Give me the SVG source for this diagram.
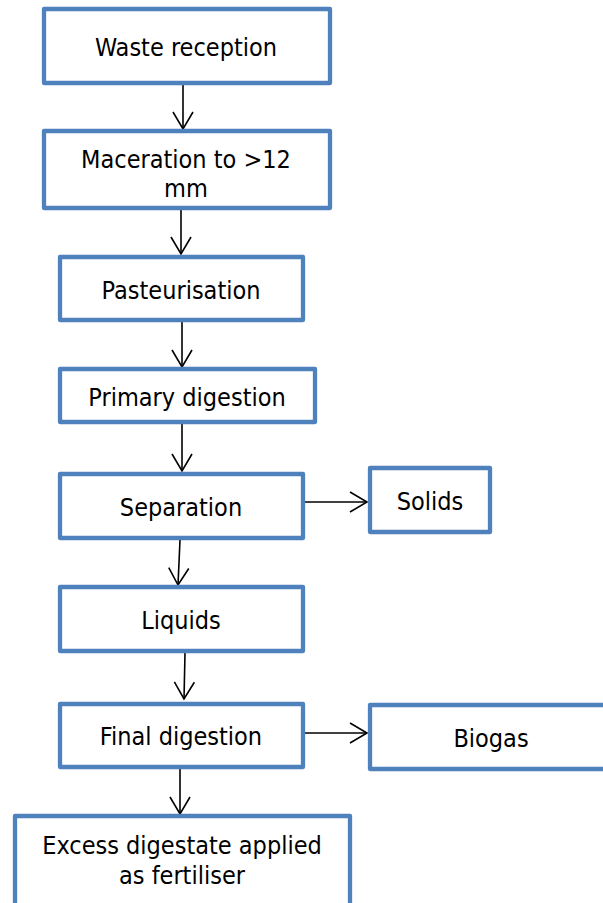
<svg xmlns="http://www.w3.org/2000/svg" width="603" height="903" viewBox="0 0 603 903">
<style>
.box{fill:#fff;stroke:#4f81bd;stroke-width:4.3;stroke-linejoin:round}
.lbl{font-family:"DejaVu Sans Condensed","DejaVu Sans",sans-serif;font-stretch:condensed;font-size:25px;fill:#000;text-anchor:middle}
.conn{stroke:#000;stroke-width:1.6;fill:none;marker-end:url(#arr)}
</style>
<defs>
<marker id="arr" viewBox="0 0 20 24" refX="18" refY="12" markerWidth="20" markerHeight="24" markerUnits="userSpaceOnUse" orient="auto">
<path d="M1,2 L18,12 L1,22" fill="none" stroke="#000" stroke-width="1.6"/>
</marker>
</defs>
<rect width="603" height="903" fill="#fff"/>
<g id="connectors">
<line class="conn" x1="183" y1="85" x2="183" y2="129"/>
<line class="conn" x1="181" y1="210" x2="181" y2="254"/>
<line class="conn" x1="182" y1="322" x2="182" y2="367"/>
<line class="conn" x1="182" y1="424" x2="182" y2="471"/>
<line class="conn" x1="180" y1="540" x2="178" y2="585"/>
<line class="conn" x1="305" y1="502" x2="367" y2="502"/>
<line class="conn" x1="185" y1="653" x2="184" y2="699"/>
<line class="conn" x1="180" y1="769" x2="180" y2="814"/>
<line class="conn" x1="305" y1="733" x2="367" y2="733"/>
</g>
<g id="waste-reception"><rect class="box" x="44" y="9" width="286" height="74"/><text class="lbl" x="186" y="56">Waste reception</text></g>
<g id="maceration"><rect class="box" x="44" y="131" width="286" height="77"/><text class="lbl" x="186" y="168">Maceration to &gt;12</text><text class="lbl" x="186" y="197">mm</text></g>
<g id="pasteurisation"><rect class="box" x="60" y="257" width="243" height="63"/><text class="lbl" x="181" y="299">Pasteurisation</text></g>
<g id="primary-digestion"><rect class="box" x="60" y="369" width="255" height="53"/><text class="lbl" x="187" y="406">Primary digestion</text></g>
<g id="separation"><rect class="box" x="60" y="474" width="243" height="64"/><text class="lbl" x="181" y="516">Separation</text></g>
<g id="solids"><rect class="box" x="370" y="468" width="120" height="64"/><text class="lbl" x="430" y="510">Solids</text></g>
<g id="liquids"><rect class="box" x="60" y="587" width="243" height="64"/><text class="lbl" x="181" y="629">Liquids</text></g>
<g id="final-digestion"><rect class="box" x="60" y="704" width="243" height="63"/><text class="lbl" x="181" y="745">Final digestion</text></g>
<g id="biogas"><rect class="box" x="370" y="705" width="245" height="64"/><text class="lbl" x="491" y="747">Biogas</text></g>
<g id="excess-digestate"><rect class="box" x="15" y="816" width="335" height="95"/><text class="lbl" x="182" y="854">Excess digestate applied</text><text class="lbl" x="182" y="884">as fertiliser</text></g>
</svg>
